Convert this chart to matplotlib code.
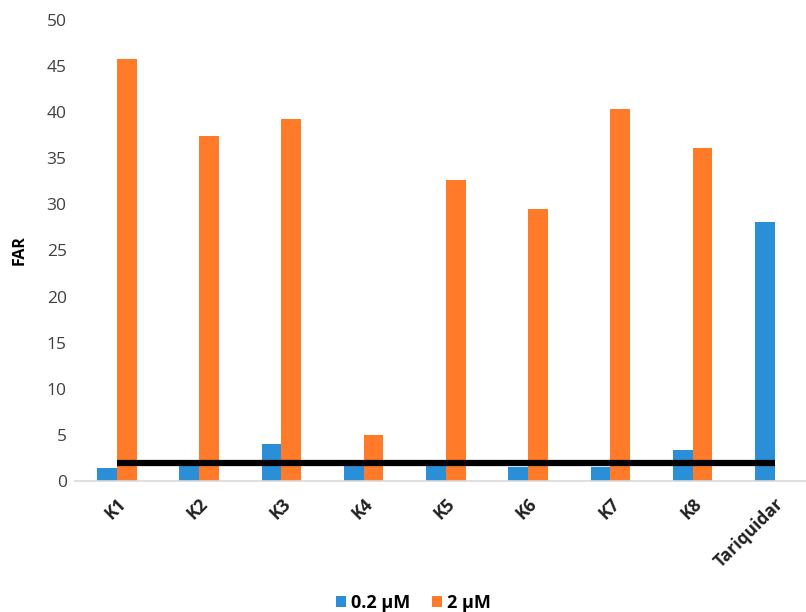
import matplotlib.pyplot as plt
import numpy as np

categories = ['K1', 'K2', 'K3', 'K4', 'K5', 'K6', 'K7', 'K8', 'Tariquidar']
low_dose = [1.4, 1.6, 4.0, 2.0, 2.0, 1.5, 1.5, 3.4, 28.1]
high_dose = [45.8, 37.4, 39.3, 5.0, 32.6, 29.5, 40.3, 36.1, 0]
threshold = 2

blue = '#2b8fd8'
orange = '#ff7b29'

plt.rcParams['font.family'] = ['Open Sans', 'DejaVu Sans']

fig = plt.figure(figsize=(8.06, 6.12), dpi=100)
ax = fig.add_axes([75 / 806, 1 - 481 / 612, 1 - 75 / 806, (481 - 20) / 612])

x = np.arange(len(categories))
w = 0.24
ax.bar(x - w / 2, low_dose, w, color=blue, label='0.2 µM', zorder=2)
ax.bar(x + w / 2, high_dose, w, color=orange, label='2 µM', zorder=2)
ax.hlines(threshold, x[0], x[-1], color='black', linewidth=4.5, zorder=3)

ax.set_ylim(0, 50)
ax.set_xlim(-0.51, 8.38)
ax.set_yticks(range(0, 51, 5))
ax.tick_params(axis='y', length=0, labelsize=12.5, labelcolor='#404040', pad=6)
ax.tick_params(axis='x', length=0, pad=10)
ax.set_xticks(x)
ax.set_xticklabels(categories, rotation=45, ha='right', rotation_mode='anchor',
                   fontsize=12.5, fontweight='bold', color='#202020')
ax.set_ylabel('FAR', fontsize=11.5, fontweight='bold', labelpad=14)

for side in ['top', 'right', 'left']:
    ax.spines[side].set_visible(False)
ax.spines['bottom'].set_color('#d9d9d9')
ax.spines['bottom'].set_linewidth(1.2)

fig.legend(loc='lower center', bbox_to_anchor=(0.513, -0.027), ncol=2, frameon=False,
           handlelength=0.55, handleheight=0.55, handletextpad=0.3, columnspacing=1.2,
           prop={'size': 13, 'weight': 'bold'})

fig.savefig('out.png', dpi=100)
